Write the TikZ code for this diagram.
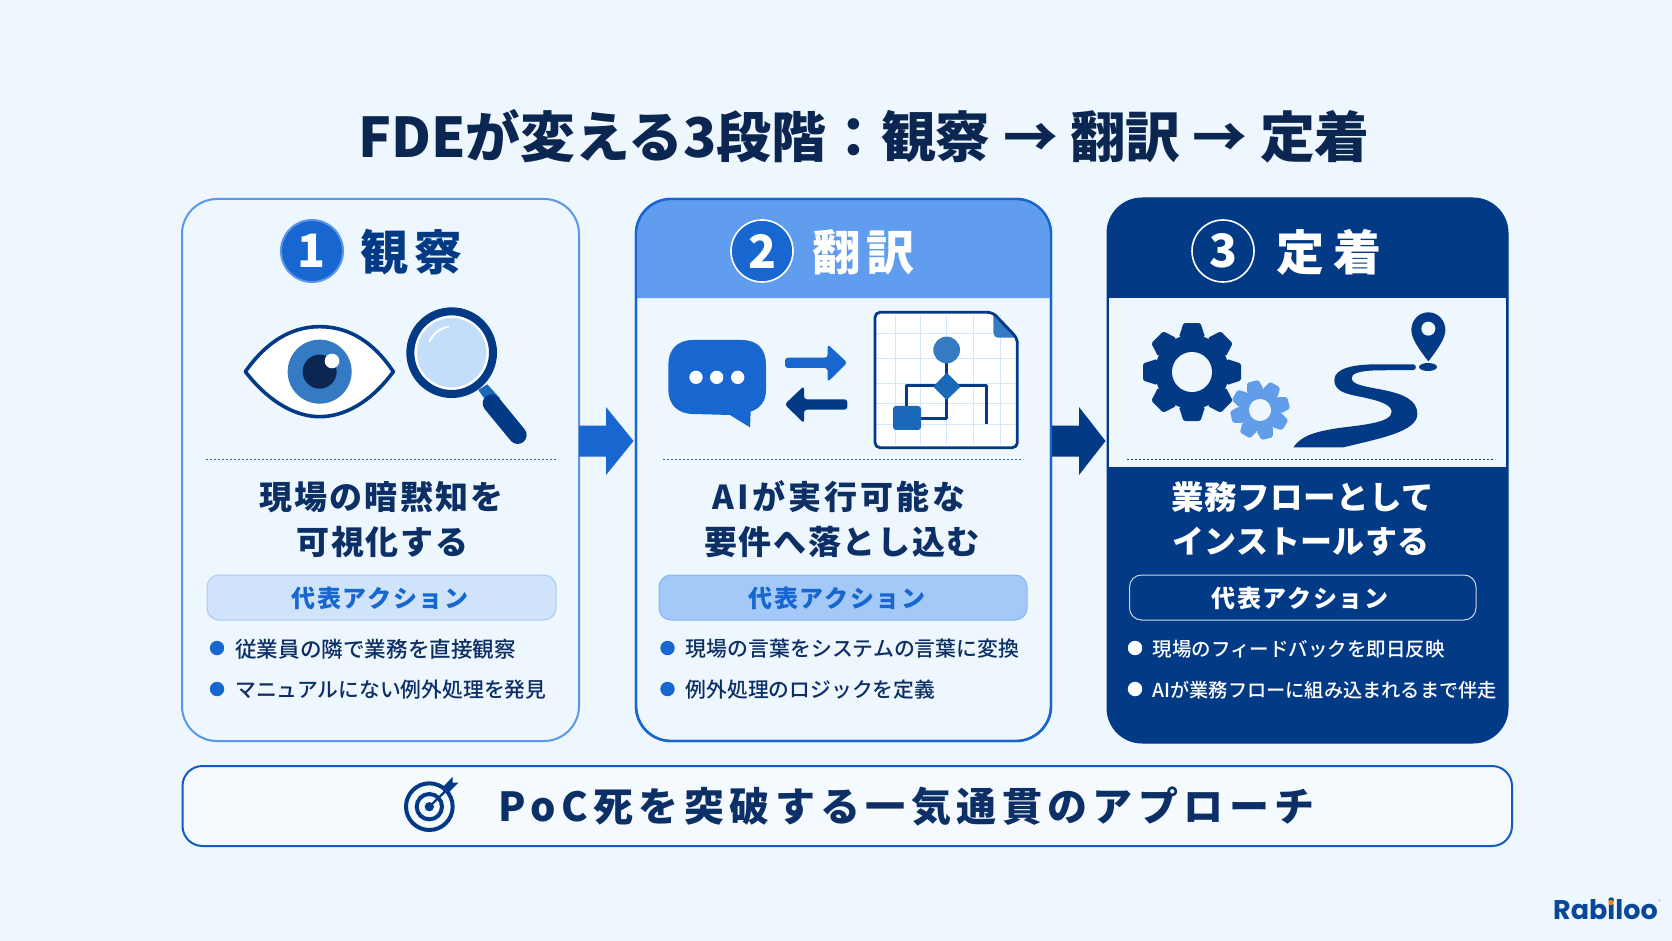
\documentclass[tikz,border=0pt]{standalone}
\usepackage{fontspec}
\usetikzlibrary{calc}
\setmainfont{Noto Sans CJK JP}
\newfontfamily\jp{Noto Sans CJK JP}
\newfontfamily\jpm{Noto Sans CJK JP Medium}
\newfontfamily\logofont{Poppins}
\definecolor{bgc}{HTML}{EEF6FE}
\definecolor{navy}{HTML}{033A85}
\definecolor{ink}{HTML}{0C2F66}
\definecolor{titleink}{HTML}{0B2650}
\definecolor{midb}{HTML}{1866D0}
\definecolor{edge1}{HTML}{5A97E8}
\definecolor{head2}{HTML}{609DEE}
\definecolor{pill1}{HTML}{CFE3FB}
\definecolor{pill2}{HTML}{A3C9F8}
\definecolor{lens}{HTML}{C3DEFA}
\definecolor{iris}{HTML}{357BC4}
\definecolor{gridc}{HTML}{D5E6FA}
\definecolor{flow}{HTML}{1A68B8}
\definecolor{gear2}{HTML}{619DE8}
\tikzset{
  x=1pt,y=-1pt,
  card/.style={rounded corners=35pt,line width=#1,inner sep=0pt,outer sep=0pt},
  headtext/.style={font=\jp\bfseries\fontsize{48}{48}\selectfont\addfontfeature{LetterSpace=#1},inner sep=0pt},
  badge/.style={circle,minimum size=62pt,inner sep=0pt,font=\jp\bfseries\fontsize{46}{46}\selectfont,text=white},
  subtext/.style 2 args={font=\jp\bfseries\fontsize{#1}{#1}\selectfont\addfontfeature{LetterSpace=#2},inner sep=0pt},
  pilltext/.style={font=\jp\bfseries\fontsize{24}{24}\selectfont\addfontfeature{LetterSpace=7},inner sep=0pt},
  itemtext/.style={font=\jpm\fontsize{#1}{#1}\selectfont,anchor=west,inner sep=0pt},
  dotline/.style={line width=1.5pt,dash pattern=on 1.6pt off 2.4pt},
  pillbox/.style={rounded corners=12pt,line width=1pt},
}
\newcommand\gearshape[9]{%
 \begin{scope}[shift={(#1,#2)},rotate=#8]
  \foreach \a in {0,45,...,315}
   \fill[#9,rotate=\a,rounded corners=1.5pt] (#3-2,-#6) -- (#4,-#5) -- (#4,#5) -- (#3-2,#6) -- cycle;
  \fill[#9] (0,0) circle (#3);
  \fill[bgc] (0,0) circle (#7);
 \end{scope}}
\newcommand\blockarrow[3]{%
 \fill[#3] ($(#1)+(0,-15.5)$) -- ($(#1)+(27,-15.5)$) -- ($(#1)+(27,-34)$) -- (#2) -- ($(#1)+(27,34)$) -- ($(#1)+(27,15.5)$) -- ($(#1)+(0,15.5)$) -- cycle;}
\begin{document}
\begin{tikzpicture}
\fill[bgc] (0,0) rectangle (1672,941);
\useasboundingbox (0,0) rectangle (1672,941);

% title
\node[font=\jp\bfseries\fontsize{54.8}{54.8}\selectfont,text=titleink,inner sep=0pt] (title) at (864,136) {FDEが変える3段階：観察 → 翻訳 → 定着};

% card 1
\node[card=2pt,draw=edge1,fill=bgc,minimum width=397pt,minimum height=542pt] (card1) at (380.5,470) {};
% card 2
\node[card=2.4pt,draw=midb,fill=bgc,minimum width=415pt,minimum height=542pt] (card2) at (843.5,470) {};
\fill[head2] (637.2,298) -- (637.2,234) arc[start angle=180,end angle=90,radius=34pt] -- (1016,200) arc[start angle=90,end angle=0,radius=34pt] -- (1049.8,298) -- cycle;
\node[card=2.4pt,draw=midb,minimum width=415pt,minimum height=542pt] (card2b) at (843.5,470) {};
% card 3
\node[card=1pt,draw=navy,fill=navy,minimum width=401pt,minimum height=545pt] (card3) at (1307.5,470.5) {};
\fill[bgc] (1109,298) rectangle (1505.5,467);

% arrows between cards
\coordinate (a1s) at (579,441);\coordinate (a1t) at (633.5,441);
\coordinate (a2s) at (1052,441);\coordinate (a2t) at (1105.5,441);
\blockarrow{a1s}{a1t}{midb}
\blockarrow{a2s}{a2t}{navy}

% headers
\node[badge,fill=midb,draw=edge1,line width=2pt] (b1) at (312,251) {1};
\node[headtext=14,text=navy] (h1) at (411.5,252) {観察};
\node[badge,fill=midb,draw=white,line width=1.6pt] (b2) at (762,251) {2};
\node[headtext=14,text=white] (h2) at (863.5,252) {翻訳};
\node[badge,fill=navy,draw=white,line width=1.6pt] (b3) at (1223,251) {3};
\node[headtext=17,text=white] (h3) at (1329,252) {定着};

% eye and magnifier (zoom coordinates)
\begin{scope}[shift={(170,190)},scale=1/3]
 \draw[navy,line width=3.6pt,fill=white,line join=round] (226,545) .. controls (300,440) and (380,410) .. (449,410) .. controls (520,410) and (600,440) .. (670,545) .. controls (600,640) and (520,680) .. (449,680) .. controls (380,680) and (300,640) .. (226,545) -- cycle;
 \fill[iris] (449,545) circle (96);
 \fill[titleink] (449,545) circle (51);
 \fill[white] (486,513) circle (22);
 \fill[flow] (925,600) -- (952,583) -- (990,625) -- (960,650) -- cycle;
 \draw[navy,line width=18pt,line cap=round] (965,640) -- (1043,735);
 \fill[lens] (845,488) circle (108);
 \draw[white,line width=2.4pt] (845,488) circle (108);
 \draw[navy,line width=8pt] (845,488) circle (124);
 \draw[white,line width=2pt,line cap=round] (778,455) .. controls (790,430) and (810,415) .. (835,410);
\end{scope}

% speech bubble, arrows, document (zoom coordinates)
\begin{scope}[shift={(630,190)},scale=1/3]
 \fill[midb] (190,450) -- (335,450) .. controls (385,450) and (408,480) .. (408,525) -- (408,600) .. controls (408,635) and (390,655) .. (362,665) -- (360,712) -- (300,675) -- (190,672) .. controls (140,672) and (115,640) .. (115,600) -- (115,525) .. controls (115,480) and (140,450) .. (190,450) -- cycle;
 \foreach \x in {198,260,323} \fill[white] (\x,562) circle (20);
 \fill[midb,rounded corners=3pt] (465,503) -- (593,503) -- (593,463) -- (652,518) -- (593,576) -- (593,534) -- (465,534) -- cycle;
 \fill[navy,rounded corners=3pt] (652,628) -- (522,628) -- (522,588) -- (464,643) -- (522,700) -- (522,659) -- (652,659) -- cycle;
 % document
 \fill[white,rounded corners=5pt] (735,367) -- (1088,367) -- (1162,445) -- (1162,773) -- (735,773) -- cycle;
 \begin{scope}
  \clip (738,370) rectangle (1160,770);
  \foreach \x in {797,870,950,1030,1110} \draw[gridc,line width=1pt] (\x,375) -- (\x,765);
  \foreach \y in {430,505,580,640,705} \draw[gridc,line width=1pt] (740,\y) -- (1155,\y);
 \end{scope}
 \fill[iris] (1090,372) -- (1160,443) -- (1105,443) .. controls (1095,443) and (1090,435) .. (1090,425) -- cycle;
 \draw[navy,line width=2.8pt,rounded corners=5pt,line join=round] (1088,367) -- (735,367) -- (735,773) -- (1162,773) -- (1162,445) -- cycle;
 \draw[navy,line width=3pt,line join=round] (950,500) -- (950,685) -- (860,685);
 \draw[navy,line width=3pt,line join=round] (830,660) -- (830,588) -- (1068,588) -- (1068,703);
 \fill[iris] (950,480) circle (40);
 \fill[flow] (950,548) -- (992,590) -- (950,630) -- (910,590) -- cycle;
 \fill[flow,rounded corners=3pt] (789,648) rectangle (873,720);
\end{scope}

% gears, road, pin
\gearshape{1192}{372}{37}{49}{8.5}{13}{20}{0}{navy}
\gearshape{1260}{410}{21.5}{29.5}{5.8}{8.5}{11}{14}{gear2}
\begin{scope}[shift={(1090,190)},scale=1/3]
 \fill[navy] (970,523) .. controls (980,523) and (980,540) .. (970,540) -- (860,541) .. controls (800,543) and (785,552) .. (785,565) .. controls (785,585) and (830,590) .. (880,600) .. controls (940,612) and (982,630) .. (982,672) .. controls (982,725) and (870,745) .. (760,772) -- (610,772) .. controls (635,735) and (680,725) .. (740,715) .. controls (810,705) and (905,700) .. (905,665) .. controls (905,640) and (850,628) .. (800,618) .. controls (760,610) and (733,600) .. (733,570) .. controls (733,535) and (790,523) .. (860,523) -- cycle;
 \fill[navy] (1015,367) .. controls (1045,367) and (1066,392) .. (1066,420) .. controls (1066,445) and (1045,475) .. (1015,514) .. controls (985,475) and (964,445) .. (964,420) .. controls (964,392) and (985,367) .. (1015,367) -- cycle;
 \fill[bgc] (1015,416) circle (21);
 \fill[navy] (1014,531) ellipse [x radius=27,y radius=12];
\end{scope}

% dotted rules
\draw[dotline,midb] (206,459.5) -- (557,459.5);
\draw[dotline,midb] (663,459.5) -- (1023,459.5);
\draw[dotline,navy] (1127,459.5) -- (1495,459.5);

% main statements
\node[subtext={33}{6.5},text=ink] (s11) at (381.5,497) {現場の暗黙知を};
\node[subtext={33}{5.5},text=ink] (s12) at (382.5,542) {可視化する};
\node[subtext={33}{9},text=ink] (s21) at (839,497) {AIが実行可能な};
\node[subtext={33}{5},text=ink] (s22) at (842,542) {要件へ落とし込む};
\node[subtext={32.5}{1.5},text=white] (s31) at (1303,497) {業務フローとして};
\node[subtext={32}{0.5},text=white] (s32) at (1301,542) {インストールする};

% pills
\draw[pillbox,fill=pill1,draw=pill1!80!midb] (207,575) rectangle (556,620);
\node[pilltext,text=midb] (p1) at (380,598) {代表アクション};
\draw[pillbox,fill=pill2,draw=pill2!80!midb] (659,575) rectangle (1027,620);
\node[pilltext,text=midb] (p2) at (837,598) {代表アクション};
\draw[pillbox,draw=white!80!navy] (1129.5,575) rectangle (1476,620);
\node[pilltext,text=white] (p3) at (1300,598) {代表アクション};

% bullets
\foreach \y in {648,689} {\fill[midb] (217,\y) circle (7.2);\fill[midb] (667.5,\y) circle (7.2);\fill[white] (1135,\y) circle (7.2);}
\node[itemtext=21.6,text=ink] (i11) at (235,649) {従業員の隣で業務を直接観察};
\node[itemtext=20.8,text=ink] (i12) at (235,690) {マニュアルにない例外処理を発見};
\node[itemtext=20.9,text=ink] (i21) at (685.5,649) {現場の言葉をシステムの言葉に変換};
\node[itemtext=20.8,text=ink] (i22) at (685.5,690) {例外処理のロジックを定義};
\node[itemtext=19.5,text=white] (i31) at (1152.5,649) {現場のフィードバックを即日反映};
\node[itemtext=19.2,text=white] (i32) at (1152.5,690) {AIが業務フローに組み込まれるまで伴走};

% bottom bar
\draw[midb!75!navy,line width=2pt,fill=bgc!60!white,rounded corners=20pt] (182.5,766) rectangle (1512,846);
\begin{scope}[shift={(380,760)},scale=1/3]
 \draw[navy,line width=4pt] (148,140) circle (70);
 \draw[navy,line width=4pt] (148,140) circle (38);
 \fill[navy] (148,140) circle (14);
 \draw[navy,line width=2.2pt] (148,140) -- (205,85);
 \fill[navy] (190,80) -- (218,50) -- (218,68) -- (235,68) -- (205,98) -- (190,98) -- cycle;
\end{scope}
\node[font=\jp\bfseries\fontsize{40}{40}\selectfont\addfontfeature{LetterSpace=13.5},text=ink,inner sep=0pt] (bar) at (906.5,806) {PoC死を突破する一気通貫のアプローチ};

% logo
\node[font=\logofont\bfseries\fontsize{27}{27}\selectfont,text=navy!70!midb,inner sep=0pt,anchor=west] (logo) at (1553,909) {Rabiloo};
\fill[orange] (1611,902.5) circle (2.6);
\node[font=\logofont\fontsize{5}{5}\selectfont,text=midb!60!bgc,inner sep=0pt] (reg) at (1659.5,901.5) {®};
\end{tikzpicture}
\end{document}
